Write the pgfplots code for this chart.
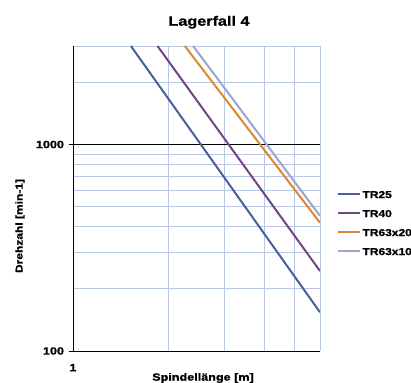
\documentclass[border=0pt]{standalone}
\usepackage{fontspec}
\setmainfont{Liberation Sans}[FakeStretch=1.2, BoldFeatures={FakeBold=1.2}]
\usepackage{pgfplots}
\pgfplotsset{compat=1.18}
\definecolor{gridblue}{RGB}{184,199,230}
\definecolor{cTRa}{RGB}{74,96,158}
\definecolor{cTRb}{RGB}{110,72,130}
\definecolor{cTRc}{RGB}{222,135,50}
\definecolor{cTRd}{RGB}{155,165,205}
\begin{document}
\begin{tikzpicture}
\path[use as bounding box] (0,0) rectangle (411bp,383bp);
\begin{axis}[
 at={(73bp,32bp)}, anchor=south west,
 scale only axis, width=247bp, height=305bp,
 xmode=log, ymode=log,
 xmin=1, xmax=6, ymin=100, ymax=3000,
 axis x line*=bottom, axis y line*=left,
 xtick={1}, xticklabels={1},
 ytick={100,1000}, yticklabels={100,1000},
 minor xtick={2,3,4,5,6},
 minor ytick={200,300,400,500,600,700,800,900,2000,3000},
 grid=both,
 major grid style={black, line width=0.8bp},
 minor grid style={gridblue, line width=0.8bp},
 minor tick length=0pt,
 major tick length=9bp,
 tick align=center,
 xtick style={draw=none},
 ytick style={black, line width=0.8bp},
 axis line style={black, line width=0.8bp},
 tick label style={font=\fontsize{10.5bp}{12bp}\selectfont\bfseries},
 xticklabel style={yshift=-5bp},
 yticklabel style={xshift=-1bp},
 legend style={draw=none, fill=none, at={(1.07,0.53)}, anchor=north west, inner sep=0pt,
   row sep=9.5bp, font=\fontsize{10bp}{12bp}\selectfont\bfseries,
   nodes={inner sep=1bp, text height=7.5bp, text depth=0bp}},
 legend cell align=left,
 legend image code/.code={\draw[#1, line width=2bp] (0bp,0bp) -- (22bp,0bp);},
]
\addplot[cTRa, line width=2bp] coordinates {(1.522,3000) (6,154)};
\addlegendentry{TR25}
\addplot[cTRb, line width=2bp] coordinates {(1.846,3000) (6,244)};
\addlegendentry{TR40}
\addplot[cTRc, line width=2bp] coordinates {(2.25,3000) (6,418)};
\addlegendentry{TR63x20}
\addplot[cTRd, line width=2bp] coordinates {(2.39,3000) (6,451)};
\addlegendentry{TR63x10}
\end{axis}
\node[font=\fontsize{13.5bp}{15bp}\selectfont\bfseries, anchor=base] at (209bp,357.3bp) {Lagerfall 4};
\node[font=\fontsize{10.5bp}{12bp}\selectfont\bfseries, anchor=base] at (203bp,2.3bp) {Spindellänge [m]};
\node[font=\fontsize{10bp}{12bp}\selectfont\bfseries, rotate=90, anchor=center] at (20bp,157bp) {Drehzahl [min-1]};
\end{tikzpicture}
\end{document}
